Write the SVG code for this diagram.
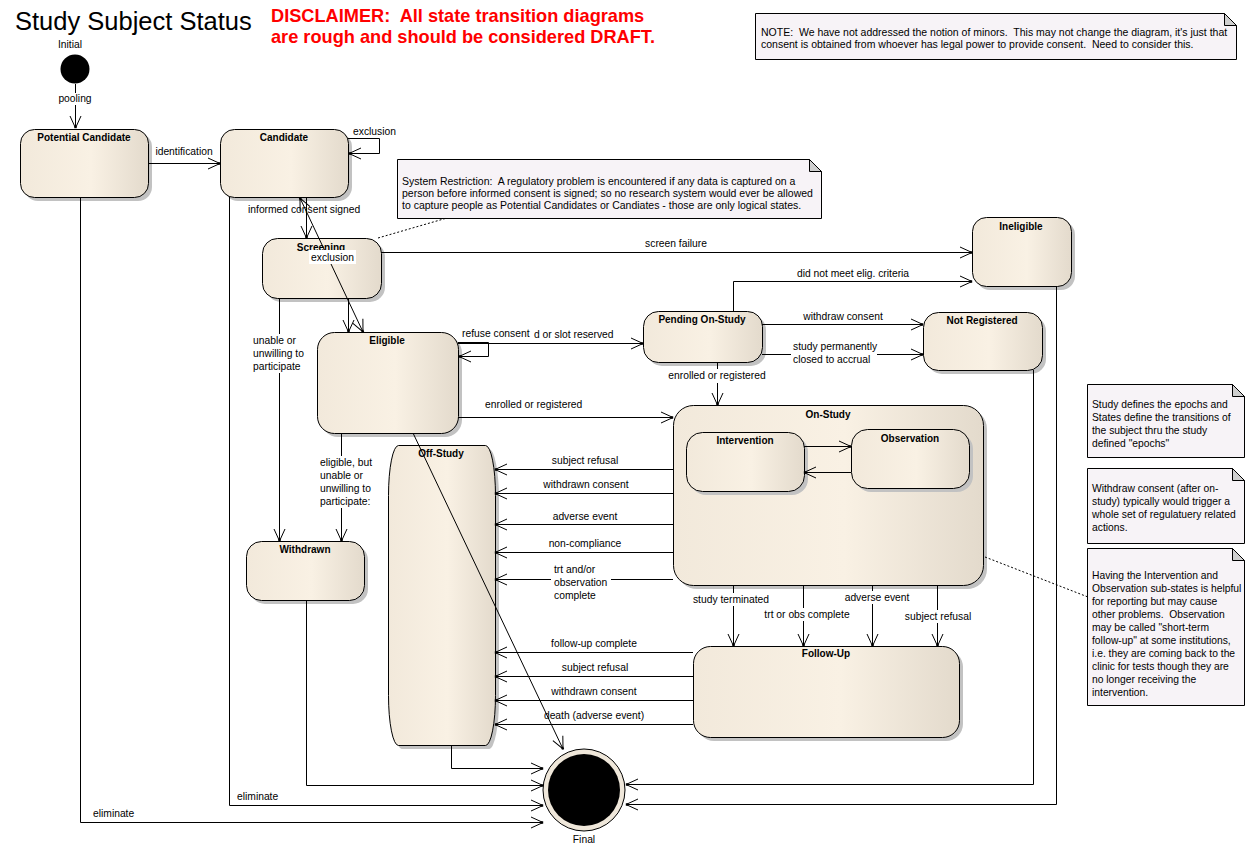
<svg xmlns="http://www.w3.org/2000/svg" width="1255" height="866" viewBox="0 0 1255 866">
<style>
  text { font-family: "Liberation Sans", Arial, sans-serif; font-size: 10.3px; fill: #000; white-space: pre; }
  .ttl { font-size: 25.5px; }
  .dis { font-size: 18.2px; font-weight: bold; fill: #f00; }
  .nm { font-size: 10px; font-weight: bold; text-anchor: middle; }
  .mid { text-anchor: middle; }
  .nt { font-size: 10.5px; }
  .node { fill: url(#beige); stroke: #000; stroke-width: 1; }
  .shadow { fill: #c2c2c2; }
  .note { fill: #f7f3f7; stroke: #000; stroke-width: 1; }
  .fold { fill: #cfcfcf; stroke: #000; stroke-width: 1; }
  .c { fill: none; stroke: #000; stroke-width: 1; marker-end: url(#arrow); }
  .dot { fill: none; stroke: #000; stroke-width: 1; stroke-dasharray: 2 2; }
  .bg { fill: #fff; }
</style>
<defs>
  <linearGradient id="beige" x1="0" y1="0" x2="1" y2="0">
    <stop offset="0" stop-color="#f2e9db"/>
    <stop offset="0.55" stop-color="#f9f1e4"/>
    <stop offset="1" stop-color="#e3dacc"/>
  </linearGradient>
  <marker id="arrow" viewBox="-14 -8 16 16" refX="0" refY="0" markerWidth="16" markerHeight="16" markerUnits="userSpaceOnUse" orient="auto" overflow="visible">
    <path d="M-12,-5.5 L0,0 L-12,5.5" fill="none" stroke="#000" stroke-width="1"/>
    <rect x="-2.2" y="-1.2" width="2.4" height="2.4" fill="#000"/>
  </marker>
  <marker id="arrowStart" viewBox="-8 -8 16 16" refX="0" refY="0" markerWidth="16" markerHeight="16" markerUnits="userSpaceOnUse" orient="auto-start-reverse" overflow="visible">
    <path d="M-12,-5.5 L0,0 L-12,5.5" fill="none" stroke="#000" stroke-width="1"/>
    <rect x="-2.2" y="-1.2" width="2.4" height="2.4" fill="#000"/>
  </marker>
</defs>

<rect width="1255" height="866" fill="#fff"/>

<!-- heading -->
<text class="ttl" x="15" y="30">Study Subject Status</text>
<text class="dis" x="271" y="22">DISCLAIMER:  All state transition diagrams</text>
<text class="dis" x="271" y="43">are rough and should be considered DRAFT.</text>

<!-- notes -->
<g id="note-minors">
  <path class="note" d="M755.5,13.5 H1224.5 L1236.5,25.5 V59.5 H755.5 Z"/>
  <path class="fold" d="M1224.5,13.5 L1236.5,25.5 H1224.5 Z"/>
  <text class="nt" x="761" y="36">NOTE:  We have not addressed the notion of minors.  This may not change the diagram, it's just that</text>
  <text class="nt" x="761" y="48">consent is obtained from whoever has legal power to provide consent.  Need to consider this.</text>
</g>
<g id="note-restriction">
  <path class="note" d="M397.5,159.5 H809.5 L821.5,171.5 V218.5 H397.5 Z"/>
  <path class="fold" d="M809.5,159.5 L821.5,171.5 H809.5 Z"/>
  <text class="nt" x="402" y="185">System Restriction:  A regulatory problem is encountered if any data is captured on a</text>
  <text class="nt" x="402" y="197">person before informed consent is signed; so no research system would ever be allowed</text>
  <text class="nt" x="402" y="209">to capture people as Potential Candidates or Candiates - those are only logical states.</text>
</g>
<g id="note-epochs">
  <path class="note" d="M1087.5,384.5 H1232.5 L1244.5,396.5 V457.5 H1087.5 Z"/>
  <path class="fold" d="M1232.5,384.5 L1244.5,396.5 H1232.5 Z"/>
  <text x="1092" y="408">Study defines the epochs and</text>
  <text x="1092" y="421">States define the transitions of</text>
  <text x="1092" y="434">the subject thru the study</text>
  <text x="1092" y="447">defined "epochs"</text>
</g>
<g id="note-withdraw">
  <path class="note" d="M1087.5,468.5 H1232.5 L1244.5,480.5 V543.5 H1087.5 Z"/>
  <path class="fold" d="M1232.5,468.5 L1244.5,480.5 H1232.5 Z"/>
  <text x="1092" y="492">Withdraw consent (after on-</text>
  <text x="1092" y="505">study) typically would trigger a</text>
  <text x="1092" y="518">whole set of regulatuery related</text>
  <text x="1092" y="531">actions.</text>
</g>
<g id="note-substates">
  <path class="note" d="M1087.5,548.5 H1232.5 L1244.5,560.5 V705.5 H1087.5 Z"/>
  <path class="fold" d="M1232.5,548.5 L1244.5,560.5 H1232.5 Z"/>
  <text x="1092" y="579">Having the Intervention and</text>
  <text x="1092" y="592">Observation sub-states is helpful</text>
  <text x="1092" y="605">for reporting but may cause</text>
  <text x="1092" y="618">other problems.  Observation</text>
  <text x="1092" y="631">may be called "short-term</text>
  <text x="1092" y="644">follow-up" at some institutions,</text>
  <text x="1092" y="657">i.e. they are coming back to the</text>
  <text x="1092" y="670">clinic for tests though they are</text>
  <text x="1092" y="683">no longer receiving the</text>
  <text x="1092" y="696">intervention.</text>
</g>

<!-- states -->
<g id="initial">
  <circle cx="75" cy="69" r="14.5" fill="#000"/>
  <text class="mid" x="70" y="48">Initial</text>
</g>
<g id="potential-candidate">
  <rect class="shadow" x="24" y="133" width="128" height="68" rx="14"/>
  <rect class="node" x="20.5" y="129.5" width="128" height="68" rx="14"/>
  <text class="nm" x="84" y="141">Potential Candidate</text>
</g>
<g id="candidate">
  <rect class="shadow" x="224" y="133" width="128" height="68" rx="14"/>
  <rect class="node" x="220.5" y="129.5" width="128" height="68" rx="14"/>
  <text class="nm" x="284" y="141">Candidate</text>
</g>
<g id="screening">
  <rect class="shadow" x="266" y="242" width="119" height="60" rx="15"/>
  <rect class="node" x="262.5" y="238.5" width="119" height="60" rx="15"/>
  <text class="nm" x="321" y="251">Screening</text>
</g>
<g id="eligible">
  <rect class="shadow" x="321" y="336" width="141" height="101" rx="17"/>
  <rect class="node" x="317.5" y="332.5" width="141" height="101" rx="17"/>
  <text class="nm" x="387" y="344">Eligible</text>
</g>
<g id="withdrawn">
  <rect class="shadow" x="250" y="545" width="118" height="59" rx="15"/>
  <rect class="node" x="246.5" y="541.5" width="118" height="59" rx="15"/>
  <text class="nm" x="305" y="553">Withdrawn</text>
</g>
<g id="off-study">
  <rect class="shadow" x="392" y="449" width="107" height="300" rx="10" ry="50"/>
  <rect class="node" x="388.5" y="445.5" width="107" height="300" rx="10" ry="50"/>
  <text class="nm" x="441" y="457">Off-Study</text>
</g>
<g id="pending-on-study">
  <rect class="shadow" x="647" y="315" width="119" height="51" rx="15"/>
  <rect class="node" x="643.5" y="311.5" width="119" height="51" rx="15"/>
  <text class="nm" x="702" y="323">Pending On-Study</text>
</g>
<g id="ineligible">
  <rect class="shadow" x="976" y="221" width="99" height="69" rx="14"/>
  <rect class="node" x="972.5" y="217.5" width="99" height="69" rx="14"/>
  <text class="nm" x="1021" y="230">Ineligible</text>
</g>
<g id="not-registered">
  <rect class="shadow" x="927" y="316" width="119" height="58" rx="15"/>
  <rect class="node" x="923.5" y="312.5" width="119" height="58" rx="15"/>
  <text class="nm" x="982" y="324">Not Registered</text>
</g>
<g id="on-study">
  <rect class="shadow" x="677" y="409" width="310" height="180" rx="20"/>
  <rect class="node" x="673.5" y="405.5" width="310" height="180" rx="20"/>
  <text class="nm" x="828" y="418">On-Study</text>
</g>
<g id="intervention">
  <rect class="shadow" x="690" y="436" width="118" height="59" rx="16"/>
  <rect class="node" x="686.5" y="432.5" width="118" height="59" rx="16"/>
  <text class="nm" x="745" y="444">Intervention</text>
</g>
<g id="observation">
  <rect class="shadow" x="855" y="433" width="118" height="59" rx="16"/>
  <rect class="node" x="851.5" y="429.5" width="118" height="59" rx="16"/>
  <text class="nm" x="910" y="442">Observation</text>
</g>
<g id="follow-up">
  <rect class="shadow" x="697" y="650" width="266" height="91" rx="17"/>
  <rect class="node" x="693.5" y="646.5" width="266" height="91" rx="17"/>
  <text class="nm" x="826" y="657">Follow-Up</text>
</g>
<g id="final">
  <circle cx="584" cy="790" r="41" fill="#efe7da" stroke="#000" stroke-width="1"/>
  <circle cx="584" cy="790" r="36" fill="#000"/>
  <text class="mid" x="584" y="843">Final</text>
</g>

<!-- transitions -->
<g id="connectors">
  <path class="c" d="M75.5,84 V128"/>
  <path class="c" d="M148,163.5 H220"/>
  <path class="c" d="M348,138.5 H379.5 V153.5 H349"/>
  <path class="c" d="M306.5,197 V238"/>
  <path class="c" d="M300,198 L363,332" style="marker-start:url(#arrowStart)"/>
  <path class="c" d="M381,252.5 H972"/>
  <path class="c" d="M348.5,298 V332"/>
  <path class="c" d="M279.5,298 V541"/>
  <path class="c" d="M458,342.5 H488.5 V356.5 H459"/>
  <path class="c" d="M458,343.5 H643"/>
  <path class="c" d="M458,417.5 H673"/>
  <path class="c" d="M341.5,433 V541"/>
  <path class="c" d="M413,433 L563,749"/>
  <path class="c" d="M733.5,311 V281.5 H972"/>
  <path class="c" d="M762,324.5 H923"/>
  <path class="c" d="M762,354.5 H923"/>
  <path class="c" d="M717.5,362 V405"/>
  <path class="c" d="M804,446.5 H851"/>
  <path class="c" d="M851,472.5 H804"/>
  <path class="c" d="M673,469.5 H495"/>
  <path class="c" d="M673,493.5 H495"/>
  <path class="c" d="M673,524.5 H495"/>
  <path class="c" d="M673,552.5 H495"/>
  <path class="c" d="M673,579.5 H495"/>
  <path class="c" d="M733.5,585 V646"/>
  <path class="c" d="M803.5,585 V646"/>
  <path class="c" d="M872.5,585 V646"/>
  <path class="c" d="M937.5,585 V646"/>
  <path class="c" d="M693,652.5 H495"/>
  <path class="c" d="M693,676.5 H495"/>
  <path class="c" d="M693,700.5 H495"/>
  <path class="c" d="M693,724.5 H495"/>
  <path class="c" d="M451.5,745 V768.5 H543"/>
  <path class="c" d="M306.5,600 V785.5 H543"/>
  <path class="c" d="M229.5,197 V805.5 H543"/>
  <path class="c" d="M80.5,197 V822.5 H543"/>
  <path class="c" d="M1033.5,370 V784.5 H626"/>
  <path class="c" d="M1056.5,286 V804.5 H626"/>
  <path class="dot" d="M378,238 L447,218"/>
  <path class="dot" d="M985,557 L1088,597"/>
</g>

<!-- transition labels -->
<g id="labels">
  <rect class="bg" x="58" y="93" width="35" height="12"/>
  <text class="mid" x="75" y="102">pooling</text>
  <text class="mid" x="184" y="155">identification</text>
  <text x="353" y="135">exclusion</text>
  <text x="248" y="213">informed consent signed</text>
  <rect class="bg" x="309" y="250" width="47" height="14"/>
  <text x="311" y="261">exclusion</text>
  <text class="mid" x="676" y="247">screen failure</text>
  <rect class="bg" x="251" y="334" width="52" height="39"/>
  <text x="253" y="344">unable or</text>
  <text x="253" y="357">unwilling to</text>
  <text x="253" y="370">participate</text>
  <text x="462" y="337">refuse consent</text>
  <text x="534" y="338">d or slot reserved</text>
  <text x="485" y="408">enrolled or registered</text>
  <text class="mid" x="853" y="277">did not meet elig. criteria</text>
  <text class="mid" x="843" y="320">withdraw consent</text>
  <rect class="bg" x="791" y="340" width="86" height="27"/>
  <text x="793" y="350">study permanently</text>
  <text x="793" y="363">closed to accrual</text>
  <rect class="bg" x="667" y="369" width="100" height="14"/>
  <text class="mid" x="717" y="379">enrolled or registered</text>
  <rect class="bg" x="318" y="456" width="55" height="52"/>
  <text x="320" y="466">eligible, but</text>
  <text x="320" y="479">unable or</text>
  <text x="320" y="492">unwilling to</text>
  <text x="320" y="505">participate:</text>
  <text class="mid" x="585" y="464">subject refusal</text>
  <text class="mid" x="586" y="488">withdrawn consent</text>
  <text class="mid" x="585" y="520">adverse event</text>
  <text class="mid" x="585" y="547">non-compliance</text>
  <rect class="bg" x="551" y="563" width="60" height="40"/>
  <text x="554" y="573">trt and/or</text>
  <text x="554" y="586">observation</text>
  <text x="554" y="599">complete</text>
  <rect class="bg" x="692" y="593" width="78" height="13"/>
  <text class="mid" x="731" y="603">study terminated</text>
  <rect class="bg" x="764" y="608" width="86" height="13"/>
  <text class="mid" x="807" y="618">trt or obs complete</text>
  <rect class="bg" x="843" y="591" width="68" height="13"/>
  <text class="mid" x="877" y="601">adverse event</text>
  <rect class="bg" x="904" y="610" width="68" height="13"/>
  <text class="mid" x="938" y="620">subject refusal</text>
  <text class="mid" x="594" y="647">follow-up complete</text>
  <text class="mid" x="595" y="671">subject refusal</text>
  <text class="mid" x="594" y="695">withdrawn consent</text>
  <text class="mid" x="594" y="719">death (adverse event)</text>
  <text x="237" y="800">eliminate</text>
  <text x="93" y="817">eliminate</text>
</g>
</svg>
